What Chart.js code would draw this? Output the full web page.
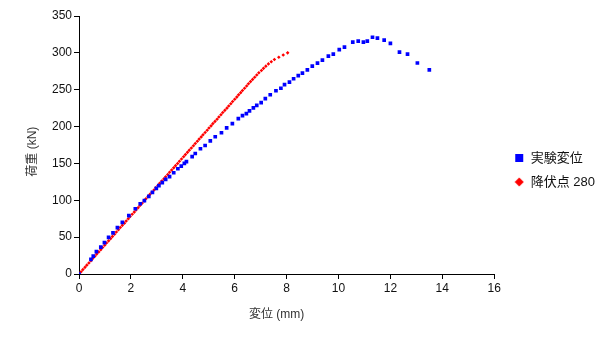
<!DOCTYPE html>
<html>
<head>
<meta charset="utf-8">
<script src="https://cdn.jsdelivr.net/npm/chart.js@4/dist/chart.umd.min.js"></script>
<style>
  body { margin: 0; background: #fff; }
  #wrap { width: 605px; height: 340px; }
</style>
</head>
<body>
<div id="wrap"><canvas id="loadChart"></canvas></div>
<script>
const testDisp = [0, 0.46, 0.55, 0.67, 0.84, 0.98, 1.14, 1.31, 1.48, 1.67, 1.92, 2.17, 2.36, 2.52, 2.69, 2.83, 2.98, 3.08, 3.21, 3.34, 3.49, 3.65, 3.81, 3.94, 4.06, 4.14, 4.36, 4.48, 4.68, 4.86, 5.06, 5.25, 5.49, 5.69, 5.91, 6.14, 6.30, 6.45, 6.57, 6.72, 6.85, 7.02, 7.18, 7.37, 7.59, 7.78, 7.92, 8.11, 8.27, 8.45, 8.61, 8.80, 8.99, 9.19, 9.38, 9.61, 9.80, 10.03, 10.23, 10.55, 10.76, 10.96, 11.11, 11.31, 11.50, 11.76, 12.00, 12.35, 12.66, 13.04, 13.50]
const testLoad = [0, 19.9, 24.3, 30.4, 36.4, 42.6, 49.6, 55.7, 62.8, 70.0, 79.3, 88.5, 95.3, 99.6, 105.4, 110.8, 116.2, 119.9, 123.9, 128.4, 132.0, 137.4, 142.8, 146.4, 150.0, 152.4, 159.2, 163.5, 169.9, 174.3, 180.7, 186.2, 191.6, 198.2, 204.1, 210.8, 214.9, 217.6, 221.2, 225.3, 228.8, 232.4, 237.8, 243.2, 248.6, 252.0, 256.8, 260.4, 264.9, 269.2, 272.6, 277.0, 282.0, 286.1, 290.1, 295.5, 298.2, 304.5, 307.7, 314.6, 315.8, 314.6, 315.9, 321.2, 319.9, 317.3, 312.8, 300.9, 298.2, 286.2, 276.8]

const yieldDisp = [0, 0.08, 0.15, 0.23, 0.30, 0.38, 0.46, 0.53, 0.61, 0.68, 0.76, 0.84, 0.91, 0.99, 1.06, 1.14, 1.22, 1.29, 1.37, 1.44, 1.52, 1.59, 1.67, 1.75, 1.82, 1.90, 1.97, 2.05, 2.13, 2.20, 2.28, 2.35, 2.43, 2.51, 2.58, 2.66, 2.73, 2.81, 2.89, 2.96, 3.04, 3.11, 3.19, 3.27, 3.34, 3.42, 3.49, 3.57, 3.65, 3.72, 3.80, 3.87, 3.95, 4.03, 4.10, 4.18, 4.25, 4.33, 4.41, 4.48, 4.56, 4.63, 4.71, 4.78, 4.86, 4.94, 5.01, 5.09, 5.16, 5.24, 5.32, 5.39, 5.47, 5.54, 5.62, 5.70, 5.77, 5.85, 5.92, 6.00, 6.08, 6.15, 6.23, 6.30, 6.38, 6.46, 6.53, 6.61, 6.69, 6.77, 6.85, 6.93, 7.03, 7.11, 7.20, 7.30, 7.41, 7.53, 7.70, 7.87, 8.04]
const yieldLoad = [0, 3, 6, 9, 12, 15, 18, 21, 24, 27, 30, 33, 36, 39, 42, 45, 48, 51, 54, 57, 60, 63, 66, 69, 72, 75, 78, 81, 84, 87, 90, 93, 96, 99, 102, 105, 108, 111, 114, 117, 120, 123, 126, 129, 132, 135, 138, 141, 144, 147, 150, 153, 156, 159, 162, 165, 168, 171, 174, 177, 180, 183, 186, 189, 192, 195, 198, 201, 204, 207, 210, 213, 216, 219, 222, 225, 228, 231, 234, 237, 240, 243, 246, 249, 252, 255, 258, 261, 264, 267, 270, 273, 276, 279, 282, 285, 288, 291, 294, 297, 300]

const seriesNames = ['実験変位', '降伏点 280']
// trailing spaces nudge the titles off-centre like the original
const xTitle = '変位 (mm)      '
const yTitle = '荷重 (kN)    '

const toPoints = (xs, ys) => xs.map((x, i) => ({ x: x, y: ys[i] }))

// small legend marks, drawn by hand so the square and diamond get their own sizes
function legendMark(kind, color) {
  const c = document.createElement('canvas')
  c.width = 10
  c.height = 10
  const g = c.getContext('2d')
  g.fillStyle = color
  if (kind === 'square') {
    g.fillRect(1, 1, 8, 8)
  } else {
    g.beginPath()
    g.moveTo(5, 0.5)
    g.lineTo(9.5, 5)
    g.lineTo(5, 9.5)
    g.lineTo(0.5, 5)
    g.closePath()
    g.fill()
  }
  return c
}
const legendMarks = [legendMark('square', '#0000ff'), legendMark('diamond', '#ff0000')]

// widen the legend box (so the plot ends sooner) but keep its items where they were
const legendGap = 9
const legendGapPlugin = {
  id: 'legendGap',
  beforeLayout(chart) {
    const legend = chart.legend
    if (legend && !legend._gapWrapped) {
      const fit = legend.fit.bind(legend)
      legend.fit = () => { fit(); legend.width += legendGap }
      legend._gapWrapped = true
    }
  },
  afterLayout(chart) {
    if (chart.legend) chart.legend.left += legendGap
  }
}

const fontFamily = "'Liberation Sans', Arial, 'Noto Sans CJK JP', sans-serif"

new Chart(document.getElementById('loadChart'), {
  type: 'scatter',
  data: {
    datasets: [{
      label: seriesNames[0],
      data: toPoints(testDisp, testLoad),
      pointStyle: 'rect',
      pointRadius: 2.6,
      pointBorderWidth: 0,
      backgroundColor: '#0000ff',
      borderColor: '#0000ff'
    }, {
      label: seriesNames[1],
      data: toPoints(yieldDisp, yieldLoad),
      pointStyle: 'rectRot',
      pointRadius: 1.8,
      pointBorderWidth: 0,
      backgroundColor: '#ff0000',
      borderColor: '#ff0000'
    }]
  },
  plugins: [legendGapPlugin],
  options: {
    animation: false,
    responsive: true,
    maintainAspectRatio: false,
    layout: {
      padding: { top: 16, right: 0, bottom: 16, left: 0 }
    },
    plugins: {
      tooltip: { enabled: false },
      legend: {
        position: 'right',
        labels: {
          usePointStyle: true,
          boxWidth: 10,
          boxHeight: 10,
          padding: 11,
          color: '#111',
          font: { family: fontFamily, size: 13 },
          generateLabels: (chart) => {
            const items = Chart.defaults.plugins.legend.labels.generateLabels(chart)
            items.forEach((item, i) => { item.pointStyle = legendMarks[i] })
            return items
          }
        }
      }
    },
    scales: {
      x: {
        type: 'linear',
        min: 0,
        max: 16,
        afterFit: (scale) => { scale.height = 50 },
        ticks: {
          stepSize: 2,
          color: '#111',
          padding: 2,
          font: { family: fontFamily, size: 12 }
        },
        grid: {
          drawOnChartArea: false,
          drawTicks: true,
          tickLength: 5,
          color: '#000'
        },
        border: { color: '#000', width: 1 },
        title: {
          display: true,
          text: xTitle,
          color: '#333',
          font: { family: fontFamily, size: 12 },
          padding: { top: 4, bottom: 2 }
        }
      },
      y: {
        type: 'linear',
        min: 0,
        max: 350,
        afterFit: (scale) => { scale.width = 79 },
        ticks: {
          stepSize: 50,
          color: '#111',
          padding: 2,
          font: { family: fontFamily, size: 12 }
        },
        grid: {
          drawOnChartArea: false,
          drawTicks: true,
          tickLength: 5,
          color: '#000'
        },
        border: { color: '#000', width: 1 },
        title: {
          display: true,
          text: yTitle,
          color: '#333',
          font: { family: fontFamily, size: 12 },
          padding: { top: 25, bottom: 4 }
        }
      }
    }
  }
})
</script>
</body>
</html>
